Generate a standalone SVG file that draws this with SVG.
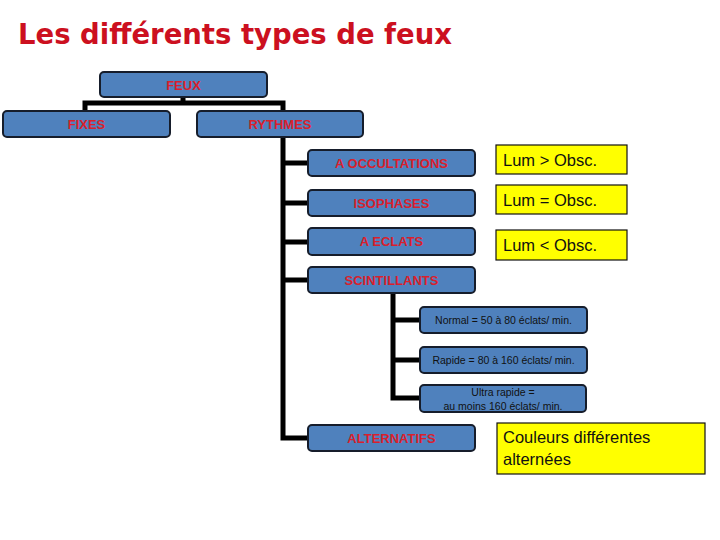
<svg xmlns="http://www.w3.org/2000/svg" width="720" height="540" viewBox="0 0 720 540">
<style>
.box{fill:#4F81BD;stroke:#161d2b;stroke-width:2}
.note{fill:#FFFF00;stroke:#111;stroke-width:1.2}
.lbl{font-family:"Liberation Sans",Arial,sans-serif;font-weight:bold;font-size:13px;fill:#D9202C;text-anchor:middle}
.small{font-family:"Liberation Sans",Arial,sans-serif;font-size:10.5px;fill:#111;text-anchor:middle}
.ntxt{font-family:"Liberation Sans",Arial,sans-serif;font-size:16.5px;fill:#111}
.con{stroke:#000;stroke-width:5;fill:none;stroke-linejoin:miter}
</style>
<rect width="720" height="540" fill="#fff"/>
<text x="18" y="44" font-family="'DejaVu Sans',Verdana,sans-serif" font-weight="bold" font-size="28" fill="#CC1020" textLength="434" lengthAdjust="spacingAndGlyphs">Les différents types de feux</text>
<g id="connectors">
<path class="con" d="M183 97 V103 M85 111 V103 H283 V111"/>
<path class="con" d="M283 137 V438 H308 M283 163 H308 M283 203 H308 M283 242 H308 M283 280 H308"/>
<path class="con" d="M393 293 V398 H420 M393 320 H420 M393 360 H420"/>
</g>
<g id="feux"><rect class="box" x="100" y="72" width="167" height="25" rx="4"/><text class="lbl" x="183.5" y="90">FEUX</text></g>
<g id="fixes"><rect class="box" x="3" y="111" width="167" height="26" rx="4"/><text class="lbl" x="86.5" y="129">FIXES</text></g>
<g id="rythmes"><rect class="box" x="197" y="111" width="166" height="26" rx="4"/><text class="lbl" x="280" y="129">RYTHMES</text></g>
<g id="occultations"><rect class="box" x="308" y="150" width="167" height="26" rx="4"/><text class="lbl" x="391.5" y="168">A OCCULTATIONS</text></g>
<g id="isophases"><rect class="box" x="308" y="190" width="167" height="26" rx="4"/><text class="lbl" x="391.5" y="208">ISOPHASES</text></g>
<g id="eclats"><rect class="box" x="308" y="228" width="167" height="27" rx="4"/><text class="lbl" x="391.5" y="246">A ECLATS</text></g>
<g id="scintillants"><rect class="box" x="308" y="267" width="167" height="26" rx="4"/><text class="lbl" x="391.5" y="285">SCINTILLANTS</text></g>
<g id="alternatifs"><rect class="box" x="308" y="425" width="167" height="26" rx="4"/><text class="lbl" x="391.5" y="443">ALTERNATIFS</text></g>
<g id="normal"><rect class="box" x="420" y="307" width="167" height="26" rx="4"/><text class="small" x="503.5" y="324">Normal = 50 à 80 éclats/ min.</text></g>
<g id="rapide"><rect class="box" x="420" y="347" width="167" height="26" rx="4"/><text class="small" x="503.5" y="364">Rapide = 80 à 160 éclats/ min.</text></g>
<g id="ultra"><rect class="box" x="420" y="385" width="166" height="27" rx="4"/><text class="small" x="503" y="396">Ultra rapide =</text><text class="small" x="503" y="410">au moins 160 éclats/ min.</text></g>
<g id="lum-sup"><rect class="note" x="496" y="145" width="131" height="29"/><text class="ntxt" x="503" y="166">Lum &gt; Obsc.</text></g>
<g id="lum-eq"><rect class="note" x="496" y="185" width="131" height="29"/><text class="ntxt" x="503" y="206">Lum = Obsc.</text></g>
<g id="lum-inf"><rect class="note" x="496" y="230" width="131" height="30"/><text class="ntxt" x="503" y="251">Lum &lt; Obsc.</text></g>
<g id="couleurs"><rect class="note" x="497" y="423" width="208" height="51"/><text class="ntxt" x="503" y="443" font-size="17">Couleurs différentes</text><text class="ntxt" x="503" y="465" font-size="17">alternées</text></g>
</svg>
